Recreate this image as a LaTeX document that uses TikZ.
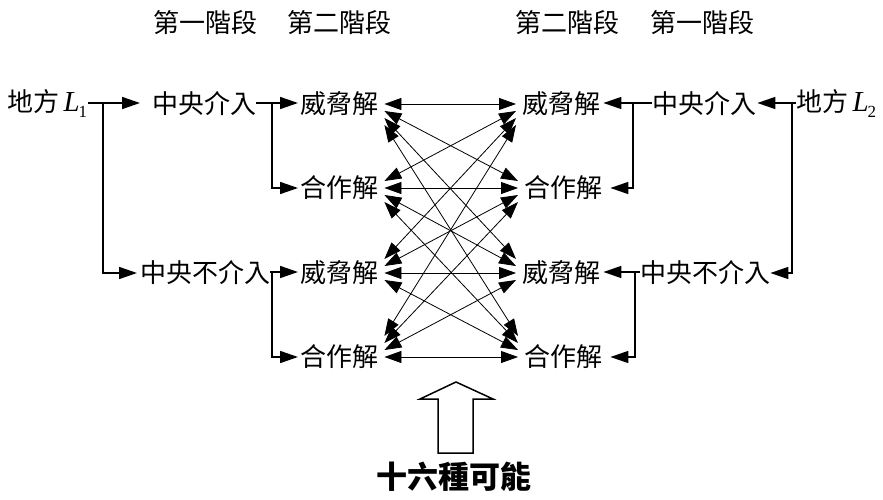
\documentclass[tikz,border=0pt]{standalone}
\usepackage{fontspec}
\setmainfont{Noto Sans CJK TC}
\newfontfamily\tms{Liberation Serif}
\usetikzlibrary{arrows.meta,calc}
\newcommand{\Lsub}[1]{{\tms\fontsize{29}{30}\selectfont\itshape L}\kern-1pt{\tms\fontsize{17}{18}\selectfont\raisebox{-6pt}{#1}}}
\begin{document}
\begin{tikzpicture}[x=1pt,y=-1pt,
  txt/.style={inner sep=0pt, anchor=west, font=\fontsize{26}{30}\selectfont},
  conn/.style={line width=1.6pt, -{Triangle[length=18pt,width=12pt]}},
  dbl/.style={line width=0.8pt, {Triangle[length=17pt,width=12pt]}-{Triangle[length=17pt,width=12pt]}},
  bigarrow/.style={line width=1.5pt, draw=black, fill=white}]
\useasboundingbox (0,0) rectangle (883,500);
% headers
\node[txt] (h1) at (153,23) {第一階段};
\node[txt] (h2) at (287,23) {第二階段};
\node[txt] (h3) at (515,23) {第二階段};
\node[txt] (h4) at (650,23) {第一階段};
% left side
\node[txt] (L1) at (7,104) {地方\,\Lsub{1}};
\node[txt] (CI) at (152,104) {中央介入};
\node[txt] (CN) at (140,273) {中央不介入};
\node[txt] (T1) at (300,104) {威脅解};
\node[txt] (C1) at (300,188) {合作解};
\node[txt] (T2) at (300,273) {威脅解};
\node[txt] (C2) at (300,357) {合作解};
% right side
\node[txt] (RT1) at (522,104) {威脅解};
\node[txt] (RC1) at (524,188) {合作解};
\node[txt] (RT2) at (522,273) {威脅解};
\node[txt] (RC2) at (524,357) {合作解};
\node[txt] (RCI) at (652,104) {中央介入};
\node[txt] (RCN) at (640,273) {中央不介入};
\node[txt] (L2) at (796,104) {地方\,\Lsub{2}};
% junction coordinates
\coordinate (j1) at (103,103);
\coordinate (j2) at (272,103);
\coordinate (j3) at (272,272);
\coordinate (j4) at (633,103);
\coordinate (j5) at (792,103);
\coordinate (j6) at (635,272);
% left connectors
\draw[conn] ([xshift=1pt]L1.east |- j1) -- ([xshift=-12pt]CI.west |- j1);
\draw[conn] (j1) |- ([xshift=-3pt]CN.west);
\draw[conn] (CI.east |- j2) -- ([xshift=-2pt]T1.west |- j2);
\draw[conn] (j2) |- ([xshift=-2pt]C1.west);
\draw[conn] (CN.east |- j3) -- ([xshift=-2pt]T2.west |- j3);
\draw[conn] (j3) |- ([xshift=-2pt]C2.west);
% right connectors
\draw[conn] (RCI.west |- j4) -- ([xshift=3pt]RT1.east |- j4);
\draw[conn] (j4) |- ([xshift=8pt]RC1.east);
\draw[conn] (L2.west |- j5) -- ([xshift=1pt]RCI.east |- j5);
\draw[conn] (j5) |- (RCN.east);
\draw[conn] (RCN.west |- j6) -- ([xshift=3pt]RT2.east |- j6);
\draw[conn] (j6) |- ([xshift=8pt]RC2.east);
% sixteen double arrows
\foreach \i/\a in {0/T1,1/C1,2/T2,3/C2}{
  \foreach \j/\b in {0/RT1,1/RC1,2/RT2,3/RC2}{
    \draw[dbl] ([xshift=6pt,yshift={-7*(\j-\i)}]\a.east) -- ([xshift=-6pt,yshift={7*(\j-\i)}]\b.west);
  }
}
% big hollow arrow
\draw[bigarrow] (456,382) -- (493,399) -- (473,399) -- (473,453) -- (438,453) -- (438,399) -- (420,399) -- cycle;
\node[inner sep=0pt, font=\fontsize{31}{34}\selectfont\bfseries] (lab) at (454,477) {十六種可能};
\end{tikzpicture}
\end{document}
